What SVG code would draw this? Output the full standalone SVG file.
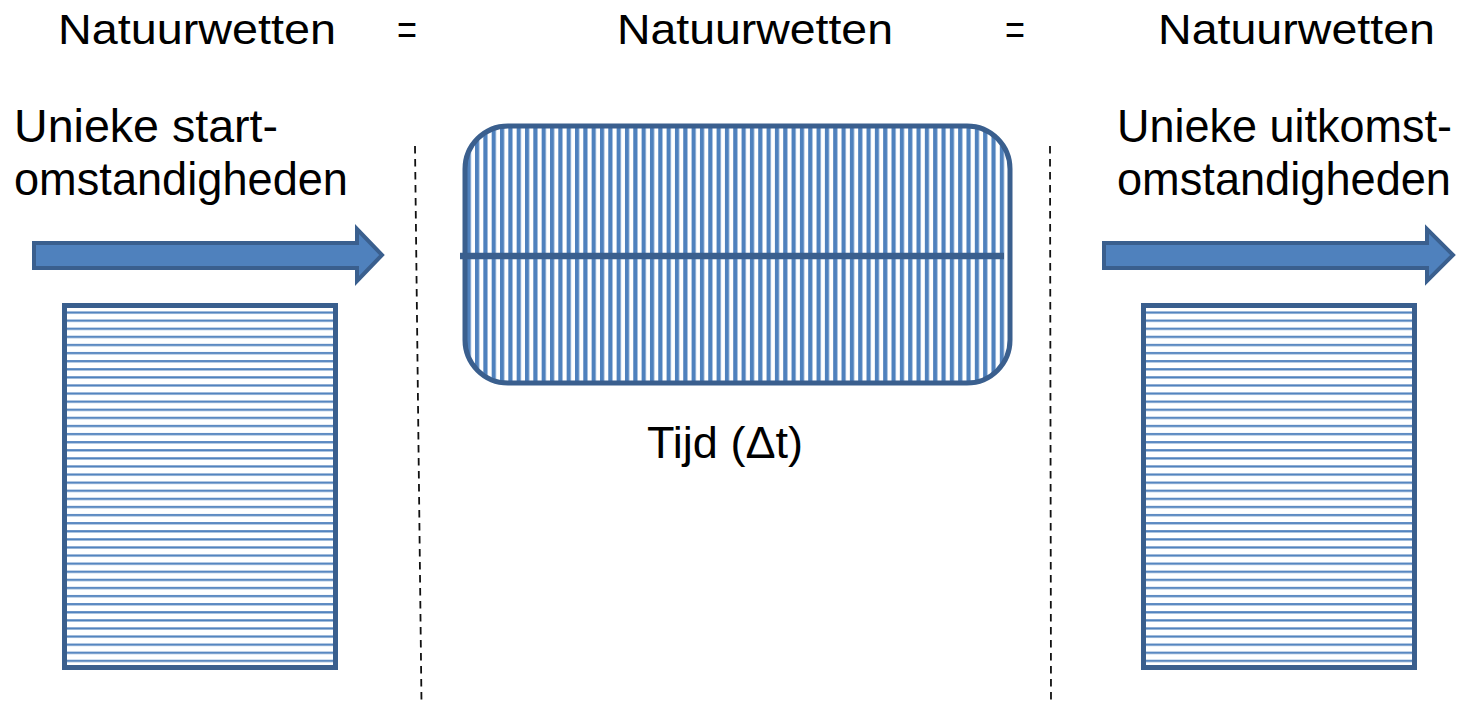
<svg xmlns="http://www.w3.org/2000/svg" width="1462" height="703" viewBox="0 0 1462 703">
<style>
.t{font-family:"Liberation Sans",Arial,sans-serif;fill:#000;}
.arrow{fill:#4F81BD;stroke:#3A5F8E;stroke-width:4;stroke-linejoin:miter;}
.box{stroke:#3A5F8E;stroke-width:5;}
.dash{stroke:#111;stroke-width:1.8;stroke-dasharray:7.5 5.5;fill:none;}
</style>
<defs>
<pattern id="hstripe" patternUnits="userSpaceOnUse" x="0" y="306" width="10" height="8.1">
<rect width="10" height="8.1" fill="#fff"/>
<rect y="5.5" width="10" height="2.2" fill="#4F81BD"/>
</pattern>
<pattern id="vstripe" patternUnits="userSpaceOnUse" x="475" y="0" width="8.33" height="10">
<rect width="8.33" height="10" fill="#fff"/>
<rect x="0" width="4.2" height="10" fill="#4F81BD"/>
</pattern>
</defs>
<g id="labels-top">
<text class="t" x="58" y="44" font-size="43" textLength="278" lengthAdjust="spacingAndGlyphs">Natuurwetten</text>
<text class="t" x="397" y="44" font-size="43" textLength="20" lengthAdjust="spacingAndGlyphs">=</text>
<text class="t" x="617" y="44" font-size="43" textLength="276" lengthAdjust="spacingAndGlyphs">Natuurwetten</text>
<text class="t" x="1005" y="44" font-size="43" textLength="20" lengthAdjust="spacingAndGlyphs">=</text>
<text class="t" x="1158" y="44" font-size="43" textLength="277" lengthAdjust="spacingAndGlyphs">Natuurwetten</text>
</g>
<g id="start">
<text class="t" x="14" y="142" font-size="46" textLength="264" lengthAdjust="spacingAndGlyphs">Unieke start-</text>
<text class="t" x="14" y="195" font-size="46" textLength="334" lengthAdjust="spacingAndGlyphs">omstandigheden</text>
<polygon class="arrow" points="34,243 357,243 357,229 382,255 357,281 357,268 34,268"/>
<rect class="box" x="64.5" y="305.5" width="271" height="362" fill="url(#hstripe)"/>
</g>
<g id="tijd">
<rect class="box" x="465" y="126" width="545" height="257" rx="43" ry="43" fill="url(#vstripe)" stroke-width="4.5"/>
<line x1="460" y1="256" x2="1004" y2="256" stroke="#3A5F8E" stroke-width="6.5"/>
<text class="t" x="647" y="458" font-size="45" textLength="156" lengthAdjust="spacingAndGlyphs">Tijd (Δt)</text>
</g>
<g id="uitkomst">
<text class="t" x="1117" y="142" font-size="46" textLength="335" lengthAdjust="spacingAndGlyphs">Unieke uitkomst-</text>
<text class="t" x="1117" y="195" font-size="46" textLength="334" lengthAdjust="spacingAndGlyphs">omstandigheden</text>
<polygon class="arrow" points="1104,243 1427,243 1427,229 1453,255 1427,281 1427,268 1104,268"/>
<rect class="box" x="1143.5" y="305.5" width="271" height="362" fill="url(#hstripe)"/>
</g>
<g id="connectors">
<line class="dash" x1="415" y1="146" x2="421.5" y2="703"/>
<line class="dash" x1="1050" y1="146" x2="1051" y2="703"/>
</g>
</svg>
